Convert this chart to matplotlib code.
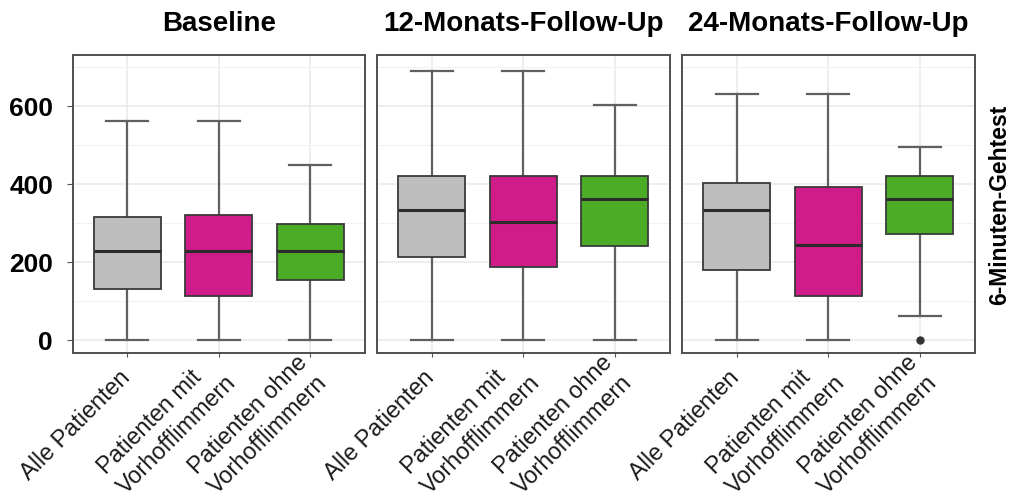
import matplotlib
matplotlib.use("Agg")
import matplotlib.pyplot as plt
import matplotlib.transforms as mtransforms
from matplotlib.ticker import MultipleLocator

plt.rcParams['font.family'] = ['Liberation Sans', 'DejaVu Sans']

# Daten
timepoints = ["Baseline", "12-Monats-Follow-Up", "24-Monats-Follow-Up"]
groups = ["Alle Patienten", "Patienten mit\nVorhofflimmern", "Patienten ohne\nVorhofflimmern"]
colors = ["#BEBEBE", "#D01C8B", "#4DAC26"]

whislo = [[0, 0, 0], [0, 0, 0], [0, 0, 62]]
q1 = [[131, 113, 153], [213, 188, 242], [181, 114, 271]]
med = [[228, 228, 228], [333, 304, 362], [333, 243, 361]]
q3 = [[315, 322, 299], [420, 420, 420], [404, 392, 420]]
whishi = [[561, 561, 450], [690, 690, 602], [630, 630, 494]]
fliers = [[[], [], []], [[], [], []], [[], [], [0]]]

ylabel_right = "6-Minuten-Gehtest"

fig = plt.figure(figsize=(10.11, 4.97), dpi=100)
lefts = [72.5 / 1011, 377 / 1011, 682 / 1011]
width = 292.5 / 1011
bottom = 1 - 353 / 497
height = (353 - 55) / 497

# Beschriftung unter den Achsen: Mittelpunkt links unterhalb vom Tick
shift = mtransforms.ScaledTranslation(-0.52, -0.68, fig.dpi_scale_trans)

for t in range(3):
    ax = fig.add_axes([lefts[t], bottom, width, height])
    stats = []
    for g in range(3):
        stats.append(dict(whislo=whislo[t][g], q1=q1[t][g], med=med[t][g],
                          q3=q3[t][g], whishi=whishi[t][g], fliers=fliers[t][g]))
    bp = ax.bxp(stats, positions=[1, 2, 3], widths=0.73, patch_artist=True,
                showcaps=True, capwidths=0.46,
                boxprops=dict(edgecolor="#3a3a3a", linewidth=1.3),
                whiskerprops=dict(color="#606060", linewidth=1.6),
                capprops=dict(color="#606060", linewidth=1.6),
                medianprops=dict(color="#2b2b2b", linewidth=2.2),
                flierprops=dict(marker="o", markerfacecolor="#333333",
                                markeredgecolor="#333333", markersize=5))
    for patch, c in zip(bp["boxes"], colors):
        patch.set_facecolor(c)
        patch.set_zorder(3)
    for m in bp["medians"]:
        m.set_zorder(4)

    ax.set_xlim(0.4, 3.6)
    ax.set_ylim(-33, 731)
    ax.yaxis.set_major_locator(MultipleLocator(200))
    ax.yaxis.set_minor_locator(MultipleLocator(100))
    ax.grid(True, which="major", color="#EBEBEB", linewidth=1.2, zorder=0)
    ax.grid(True, which="minor", axis="y", color="#F2F2F2", linewidth=0.8, zorder=0)
    ax.set_axisbelow(True)
    for s in ax.spines.values():
        s.set_color("#4f4f4f")
        s.set_linewidth(1.4)

    ax.set_xticks([1, 2, 3])
    ax.tick_params(axis="x", length=3, color="#555555", pad=0)
    ax.tick_params(axis="y", which="minor", length=0)
    if t == 0:
        ax.tick_params(axis="y", length=4.5, color="#555555", labelsize=19, pad=9.5)
        for lab in ax.get_yticklabels():
            lab.set_fontweight("bold")
    else:
        ax.tick_params(axis="y", which="both", length=0, labelleft=False)

    ax.set_title(timepoints[t], fontsize=20, fontweight="bold", pad=17)

    # Tick-Beschriftungen zuletzt, damit tick_params die Transformation nicht zurücksetzt
    ax.set_xticklabels(groups, rotation=45, ha="center", va="center",
                       rotation_mode="anchor", fontsize=16.8,
                       multialignment="left", linespacing=1.3, color="#1a1a1a")
    for lab in ax.get_xticklabels():
        lab.set_transform(lab.get_transform() + shift)

fig.text(1000 / 1011, 1 - 205 / 497, ylabel_right, rotation=90, ha="center",
         va="center", fontsize=16.5, fontweight="bold")

fig.savefig("out.png", dpi=100)
